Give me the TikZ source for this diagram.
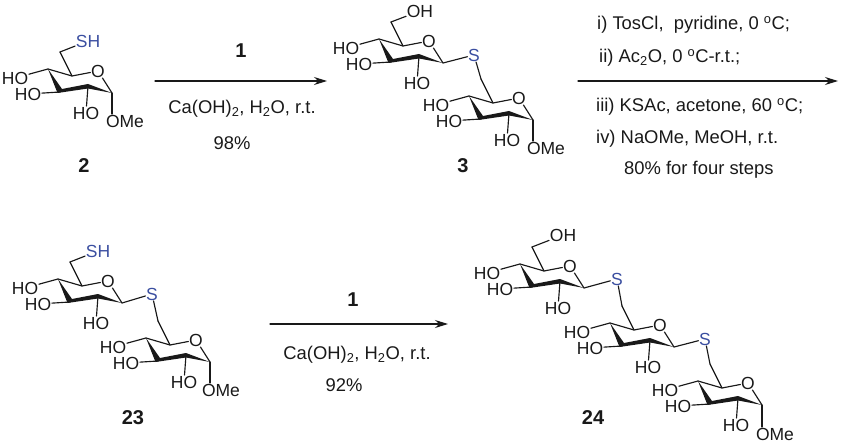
\documentclass[tikz,border=0pt]{standalone}
\usepackage{fontspec}
\setmainfont{Liberation Sans}
\usetikzlibrary{arrows.meta}
\definecolor{sulfur}{RGB}{58,78,160}
\definecolor{ink}{RGB}{25,25,25}
\tikzset{
  atom/.style={inner sep=0.6pt,text=ink,font=\fontsize{17.5}{19}\selectfont},
  satom/.style={atom,text=sulfur},
  bond/.style={line width=1.15pt,draw=ink},
  num/.style={inner sep=0pt,text=ink,font=\fontsize{20}{22}\selectfont\bfseries},
  cond/.style={inner sep=0pt,text=ink,font=\fontsize{18.4}{21}\selectfont},
  rxn/.style={line width=1.2pt,draw=ink,-{Stealth[length=13pt,width=8pt]}}
}
% ring with its three HO groups, #2 is the C5 position
\newcommand{\sugarring}[2]{
  \begin{scope}[shift={(#2)}]
    \coordinate (#1c5) at (0,0);
    \coordinate (#1c4) at (-24,-7);
    \coordinate (#1c3) at (-12,16);
    \coordinate (#1c2) at (16,10);
    \coordinate (#1c1) at (40,17);
    \coordinate (#1c6) at (-12,-24);
    \node[atom] (#1o) at (26,-5) {O};
    \node[atom] (#1oh4) at (-57,2) {HO};
    \node[atom] (#1oh3) at (-44,18) {HO};
    \node[atom] (#1oh2) at (14,37) {HO};
    \draw[bond] (#1c4)--(#1c5)--(#1o)--(#1c1);
    \draw[bond] (#1c5)--(#1c6);
    \fill[ink] (#1c4)--(-14.5,17)--(16,12.5)--(#1c1)--(16,8)--(-10,13)--cycle;
    \draw[bond] (#1c4)--(#1oh4);
    \draw[bond] (#1c3)--(#1oh3);
    \draw[bond] (#1c2)--(#1oh2);
  \end{scope}
}
\begin{document}
\begin{tikzpicture}[x=1pt,y=-1pt,line cap=round,line join=round]
  \useasboundingbox (0,0) rectangle (842,443);

  % compound 2
  \sugarring{a}{72,76}
  \node[satom] (aSH) at (88,41) {SH};
  \node[atom] (aOMe) at (125,121) {OMe};
  \draw[bond] (ac6)--(aSH);
  \draw[bond] (ac1)--(ac1 |- aOMe.north);
  \node[num] (lab2) at (84,166) {2};

  % compound 3
  \sugarring{b}{403,46}
  \sugarring{c}{493,103}
  \node[atom] (bOH) at (420,11) {OH};
  \node[satom] (bS) at (474,55) {S};
  \node[atom] (cOMe) at (546,148) {OMe};
  \draw[bond] (bc6)--(bOH);
  \draw[bond] (bc1)--(bS)--(cc6);
  \draw[bond] (cc1)--(cc1 |- cOMe.north);
  \node[num] (lab3) at (463,166) {3};

  % compound 23
  \sugarring{d}{82,286}
  \sugarring{e}{170,345}
  \node[satom] (dSH) at (98,251) {SH};
  \node[satom] (dS) at (152,294) {S};
  \node[atom] (eOMe) at (221,390) {OMe};
  \draw[bond] (dc6)--(dSH);
  \draw[bond] (dc1)--(dS)--(ec6);
  \draw[bond] (ec1)--(ec1 |- eOMe.north);
  \node[num] (lab23) at (133,418) {23};

  % compound 24
  \sugarring{f}{544,271}
  \sugarring{g}{634,330}
  \sugarring{h}{722,388}
  \node[atom] (fOH) at (563,235) {OH};
  \node[satom] (fS) at (617,279) {S};
  \node[satom] (gS) at (705,339) {S};
  \node[atom] (hOMe) at (775,434) {OMe};
  \draw[bond] (fc6)--(fOH);
  \draw[bond] (fc1)--(fS)--(gc6);
  \draw[bond] (gc1)--(gS)--(hc6);
  \draw[bond] (hc1)--(hc1 |- hOMe.north);
  \node[num] (lab24) at (593,418) {24};

  % arrows
  \coordinate (r1a) at (155,81);
  \coordinate (r1b) at (327,81);
  \coordinate (r2a) at (578,81);
  \coordinate (r2b) at (838,81);
  \coordinate (r3a) at (270,324);
  \coordinate (r3b) at (448,324);
  \draw[rxn] (r1a)--(r1b);
  \draw[rxn] (r2a)--(r2b);
  \draw[rxn] (r3a)--(r3b);

  \node[num] (r1top) at (241,51) {1};
  \node[cond] (r1low) at (242,109) {Ca(OH)\textsubscript{2}, H\textsubscript{2}O, r.t.};
  \node[cond] (r1yield) at (232,143) {98\%};

  \node[cond,anchor=west] (r2i) at (597,25) {i) TosCl,\ \ pyridine, 0 \textsuperscript{o}C;};
  \node[cond,anchor=west] (r2ii) at (599,58) {ii) Ac\textsubscript{2}O, 0 \textsuperscript{o}C-r.t.;};
  \node[cond,anchor=west] (r2iii) at (596,107) {iii) KSAc, acetone, 60 \textsuperscript{o}C;};
  \node[cond,anchor=west] (r2iv) at (596,139) {iv) NaOMe, MeOH, r.t.};
  \node[cond,anchor=west] (r2yield) at (624,170) {80\% for four steps};

  \node[num] (r3top) at (353,300) {1};
  \node[cond] (r3low) at (357,355) {Ca(OH)\textsubscript{2}, H\textsubscript{2}O, r.t.};
  \node[cond] (r3yield) at (344,385) {92\%};
\end{tikzpicture}
\end{document}
